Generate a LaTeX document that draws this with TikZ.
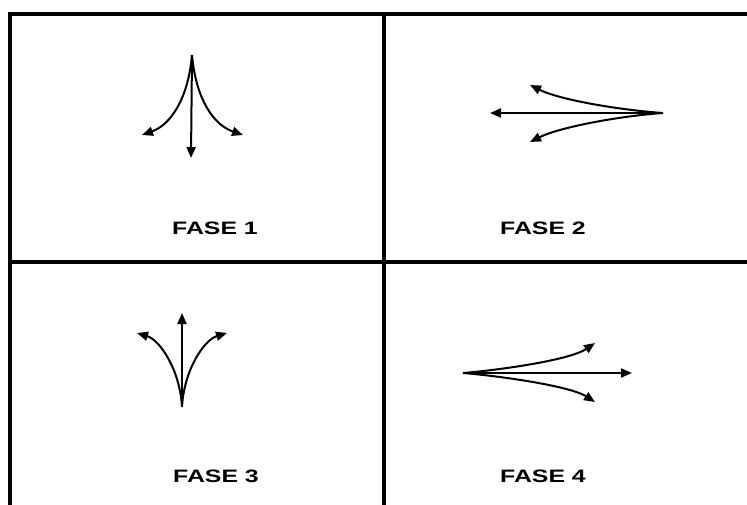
\documentclass[tikz,border=0pt]{standalone}
\usepackage{fontspec}
\setmainfont{Liberation Sans}
\usetikzlibrary{arrows.meta}
\begin{document}
\begin{tikzpicture}[x=1pt,y=-1pt,
  frame/.style={line width=3.2pt,line cap=rect},
  arr/.style={line width=2pt,-{Triangle[length=11pt,width=9pt]}},
  lab/.style={font=\fontsize{18}{18}\selectfont\bfseries,inner sep=0pt}]
\useasboundingbox (0,0) rectangle (747,504);
% frame
\coordinate (tl) at (10,14);
\coordinate (tr) at (760,14);
\coordinate (bl) at (10,520);
\coordinate (mt) at (384,14);
\coordinate (mb) at (384,520);
\coordinate (ml) at (10,262);
\coordinate (mr) at (760,262);
\draw[frame] (bl) -- (tl) -- (tr);
\draw[frame] (mt) -- (mb);
\draw[frame] (ml) -- (mr);
% FASE 1
\coordinate (o1) at (192,55);
\coordinate (d1) at (191,158);
\coordinate (l1) at (142,135);
\coordinate (r1) at (243,135);
\draw[arr] (o1) -- (d1);
\draw[arr] (o1) .. controls (188,100) and (170,125) .. (l1);
\draw[arr] (o1) .. controls (196,100) and (214,125) .. (r1);
% FASE 2
\coordinate (o2) at (663,113);
\coordinate (d2) at (490,113);
\coordinate (u2) at (530,85);
\coordinate (w2) at (530,142);
\draw[arr] (o2) -- (d2);
\draw[arr] (o2) .. controls (620,110) and (560,100) .. (u2);
\draw[arr] (o2) .. controls (620,116) and (560,127) .. (w2);
% FASE 3
\coordinate (o3) at (182,407);
\coordinate (d3) at (182,313);
\coordinate (l3) at (137,333);
\coordinate (r3) at (227,333);
\draw[arr] (o3) -- (d3);
\draw[arr] (o3) .. controls (180,370) and (160,340) .. (l3);
\draw[arr] (o3) .. controls (184,370) and (204,340) .. (r3);
% FASE 4
\coordinate (o4) at (463,373);
\coordinate (d4) at (632,373);
\coordinate (u4) at (595,343);
\coordinate (w4) at (595,402);
\draw[arr] (o4) -- (d4);
\draw[arr] (o4) .. controls (500,370) and (570,360) .. (u4);
\draw[arr] (o4) .. controls (500,376) and (570,386) .. (w4);
% labels
\node[lab] (f1) at (215,228.5) {\scalebox{1.38}[1]{FASE 1}};
\node[lab] (f2) at (543,228.5) {\scalebox{1.38}[1]{FASE 2}};
\node[lab] (f3) at (216,476) {\scalebox{1.38}[1]{FASE 3}};
\node[lab] (f4) at (543,476) {\scalebox{1.38}[1]{FASE 4}};
\end{tikzpicture}
\end{document}
